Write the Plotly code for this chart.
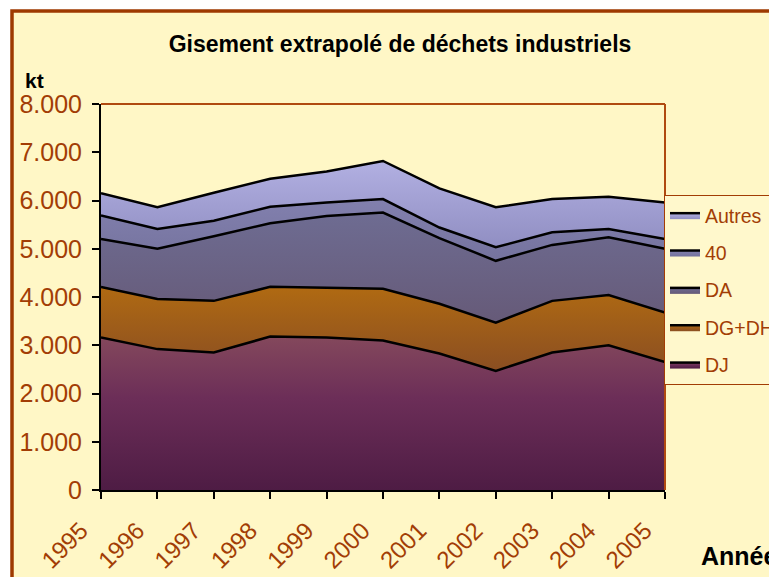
import plotly.graph_objects as go

years = [1995, 1996, 1997, 1998, 1999, 2000, 2001, 2002, 2003, 2004, 2005]
dj = [3160, 2920, 2850, 3180, 3160, 3100, 2830, 2470, 2850, 3000, 2650]
dg_dh = [1050, 1040, 1070, 1030, 1030, 1070, 1030, 1000, 1070, 1040, 1030]
da = [990, 1040, 1340, 1320, 1490, 1580, 1360, 1280, 1160, 1200, 1320]
c40 = [490, 410, 320, 340, 280, 280, 220, 280, 260, 170, 200]
autres = [460, 450, 580, 580, 640, 790, 810, 830, 690, 670, 760]
yticks = [0, 1000, 2000, 3000, 4000, 5000, 6000, 7000, 8000]

series = [
    ("DJ", dj, [[0, "#4e1c44"], [0.6, "#6c2e58"], [1, "#84485c"]]),
    ("DG+DH", dg_dh, [[0, "#8a4e22"], [1, "#b06a12"]]),
    ("DA", da, [[0, "#665a78"], [1, "#6e6c92"]]),
    ("40", c40, [[0, "#75739e"], [1, "#8280ae"]]),
    ("Autres", autres, [[0, "#908ec2"], [1, "#b2b0e2"]]),
]

BROWN = "#A23D05"
FONT = "Arial, Liberation Sans, sans-serif"

fig = go.Figure()
n = len(series)
for i, (name, vals, cs) in enumerate(series):
    fig.add_trace(go.Scatter(
        x=years, y=vals, name=name, stackgroup="one", mode="lines",
        line=dict(color="black", width=2.5),
        fillgradient=dict(type="vertical", colorscale=cs),
        legendgroup=name, legendrank=n - i,
    ))

# page offset of 8px (browser body margin): work in figure pixels = page - 8
OFF = 8
W, H = 777 - OFF, 577 - OFF
L, R, T, B = 101 - OFF, 665 - OFF, 104 - OFF, 490 - OFF
pw, ph = R - L, B - T

def px(x):
    return (x - OFF - L) / pw

def py(y):
    return (B - (y - OFF)) / ph

fig.update_layout(
    width=W, height=H,
    margin=dict(l=L, r=W - R, t=T, b=H - B, autoexpand=False),
    paper_bgcolor="white",
    plot_bgcolor="#FDEAA8",
    separators=",.",
    font=dict(family=FONT, color=BROWN, size=22),
    title=dict(text="<b>Gisement extrapolé de déchets industriels</b>",
               x=(400 - OFF) / W, xref="container", xanchor="center",
               y=1 - (44 - OFF) / H, yref="container", yanchor="middle",
               font=dict(family=FONT, size=23, color="black")),
    xaxis=dict(range=[1995, 2005], tickvals=years, tickangle=-45,
               ticks="outside", ticklen=7, tickcolor="black", tickwidth=1.5,
               ticklabelstandoff=8, ticklabelshift=-20,
               showline=True, linecolor="black", linewidth=2,
               showgrid=False, zeroline=False,
               tickfont=dict(size=24, color=BROWN, family=FONT)),
    yaxis=dict(range=[0, 8000], tickvals=yticks, tickformat=",d",
               ticks="outside", ticklen=7, tickcolor="black", tickwidth=1.5,
               ticklabelstandoff=5,
               showline=True, linecolor="black", linewidth=2,
               showgrid=False, zeroline=False,
               tickfont=dict(size=25, color=BROWN, family=FONT)),
    legend=dict(x=px(664), y=py(195), xanchor="left", yanchor="top",
                bgcolor="#FFF8CC", bordercolor=BROWN, borderwidth=1,
                traceorder="grouped", tracegroupgap=9,
                font=dict(size=19.5, color=BROWN, family=FONT)),
    showlegend=True,
)

fig.add_shape(type="rect", xref="paper", yref="paper",
              x0=px(12), x1=px(820), y0=py(620), y1=py(11),
              fillcolor="#FFF7C6", line=dict(color="#9E3A00", width=3.5),
              layer="below")
fig.add_shape(type="line", xref="paper", yref="paper", x0=0, x1=1, y0=1, y1=1,
              line=dict(color="#B04A10", width=2), layer="above")
fig.add_shape(type="line", xref="paper", yref="paper", x0=1, x1=1, y0=0, y1=1,
              line=dict(color="#B04A10", width=2), layer="above")

fig.add_annotation(text="<b>kt</b>", xref="paper", yref="paper",
                   x=px(34), y=py(80), xanchor="center", yanchor="middle",
                   showarrow=False,
                   font=dict(size=21, color="black", family=FONT))
fig.add_annotation(text="<b>Année</b>", xref="paper", yref="paper",
                   x=px(699), y=py(556), xanchor="left", yanchor="middle",
                   showarrow=False,
                   font=dict(size=25, color="black", family=FONT))

fig.write_html("out.html")
